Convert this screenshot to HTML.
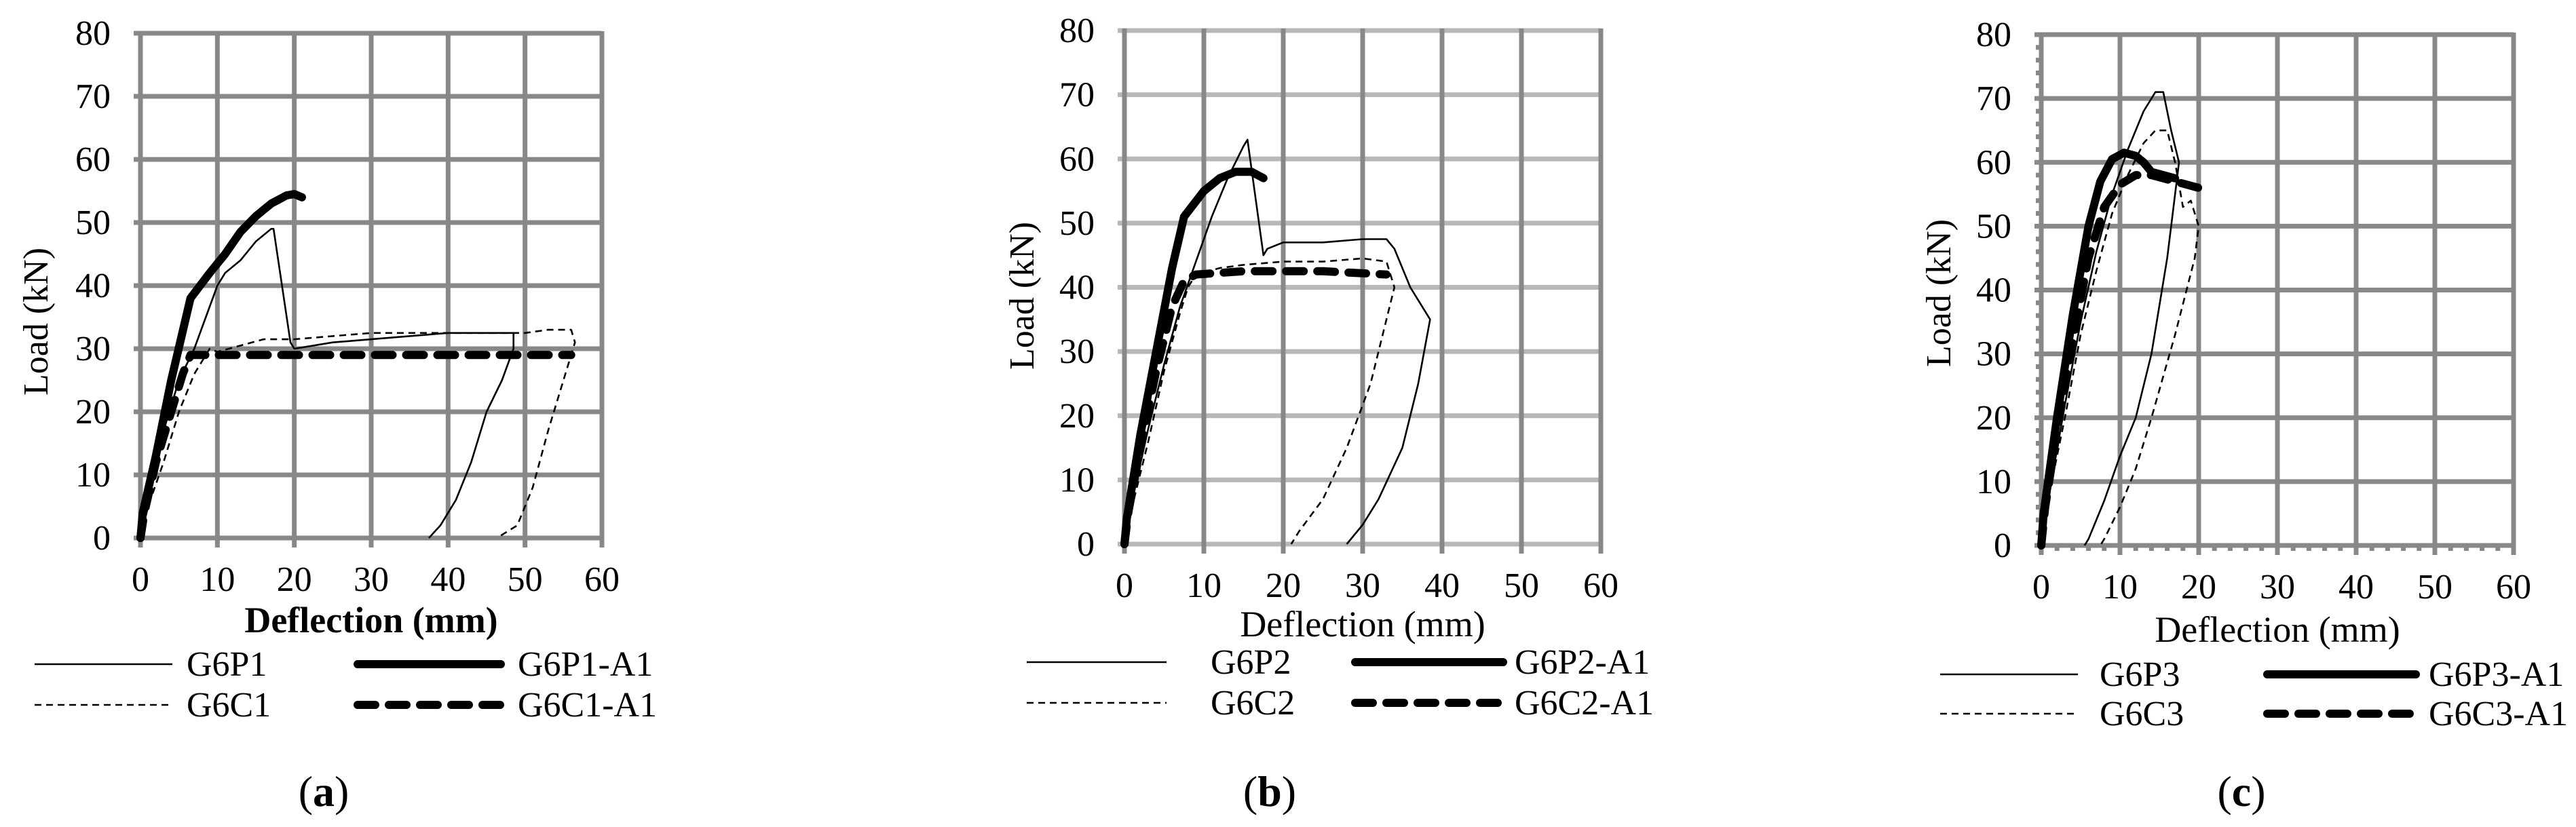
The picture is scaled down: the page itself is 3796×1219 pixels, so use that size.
<!DOCTYPE html>
<html><head><meta charset="utf-8"><style>
html,body{margin:0;padding:0;background:#fff;}
svg, svg text{font-family:"Liberation Serif","Times New Roman",serif;}
</style></head><body>
<svg id="fig" width="3796" height="1214" viewBox="0 0 3796 1214" xmlns="http://www.w3.org/2000/svg" font-family="Liberation Serif, serif"></svg>
<script>
// ---- data (x = deflection mm, y = load kN) ----
const xTicks = [0,10,20,30,40,50,60];
const yTicks = [0,10,20,30,40,50,60,70,80];
// panel (a)
const aP1 = [[0,0],[0.3,3],[1,8],[3,17],[5,25],[7,30],[8.5,35],[10,40],[11,42],[13,44],[15,47],[17,49],[17.3,49],[19.5,31],[20,30],[25,31],[30,31.5],[35,32],[40,32.5],[45,32.5],[48.5,32.5],[48.5,30],[47,25],[45,20],[43,12],[41,6],[39,2],[37.5,0]];
const aC1 = [[0,0],[1,5],[3,12],[5,20],[7,26],[9,30],[10,29.5],[13,30.5],[16,31.5],[20,31.5],[25,32],[30,32.5],[40,32.5],[50,32.5],[53,33],[56,33],[56.5,31],[55,25],[53,17],[51,8],[49,2],[47,0.5],[46.5,0]];
const aP1A1 = [[0,0],[0.3,4],[2,13],[4,25],[6.5,38],[9,42],[11,45],[13,48.5],[15,51],[17,53],[19,54.3],[20,54.5],[21,54]];
const aC1A1 = [[0,0],[0.5,4],[2,12],[4,20],[5.5,26],[6.5,29],[8,29],[10,29],[56,29]];
// panel (b)
const bP2 = [[0,0],[1,7],[3,18],[5,28],[7,37],[9,44],[11,51],[13,57],[15,62],[15.5,63],[17.5,45],[18,46],[20,47],[25,47],[30,47.5],[33,47.5],[34,46],[36,40],[38.5,35],[37,25],[35,15],[32,7],[30,3],[28,0]];
const bC2 = [[0,0],[1,6],[3,16],[5,27],[7,36],[8,40],[9,42],[12,43],[15,43.5],[20,44],[25,44],[30,44.5],[33,44],[34,40],[33,35],[31,25],[28,15],[25,7],[22,2],[21,0]];
const bP2A1 = [[0,0],[0.3,4],[2,17],[4,30],[6,43],[7.5,51],[10,55],[12,57],[14,58],[16,58],[17.5,57]];
const bC2A1 = [[0,0],[0.5,5],[2,15],[4,27],[6,37],[7.5,41],[9,42],[15,42.5],[25,42.5],[33,42]];
// panel (c)
const cP3 = [[0,0],[1,8],[3,22],[5,35],[7,46],[9,55],[11,62],[13,68],[14.5,71],[15.5,71],[16.5,65],[17.5,60],[17,55],[16,45],[14,30],[12,20],[10,14],[8,7],[6,1],[5.5,0]];
const cC3 = [[0,0],[1,8],[3,20],[5,33],[7,43],[9,52],[11,58],[13,63],[14.5,65],[16,65],[17,60],[18,53],[19,54],[20,50],[19.5,45],[17,33],[14,20],[12,12],[10,6],[8,1],[7.5,0]];
const cP3A1 = [[0,0],[0.3,5],[2,20],[4,36],[6,50],[7.5,57],[9,60.5],[10.5,61.5],[12,61],[13,60],[14,58.5],[17,57.5]];
const cC3A1 = [[0,0],[0.5,6],[2,18],[4,32],[6,45],[8,53],[10,56.5],[12,58],[14,58],[17,57],[20,56]];

const NS="http://www.w3.org/2000/svg";
const svg=document.getElementById('fig');
const FF='Liberation Serif, serif';
function mk(tag,attrs,parent){const e=document.createElementNS(NS,tag);for(const k in attrs)e.setAttribute(k,attrs[k]);if(tag==='text')e.setAttribute('font-family',FF);(parent||svg).appendChild(e);return e;}
const styles={
 thin:{w:2.6,dash:null,cap:'butt'},
 thinDash:{w:2.6,dash:'10 7',cap:'butt'},
 thick:{w:12,dash:null,cap:'round'},
 thickDash:{w:12,dash:'26 20',cap:'round'}
};
const panels=[
 {id:'a',x0:207,x1:887,y0:793,y1:49,hcol:'#888',minor:false,boldTitle:true,titleY:932,ylab:[53,474],
  series:[[aP1,'thin','G6P1'],[aC1,'thinDash','G6C1'],[aP1A1,'thick','G6P1-A1'],[aC1A1,'thickDash','G6C1-A1']],
  leg:{r1:979,r2:1039,l1:[51,254],t1:275,l2:[527,738],t2:763},cap:[477,1188]},
 {id:'b',x0:1657,x1:2359,y0:802,y1:45,hcol:'#b8b8b8',minor:false,boldTitle:false,titleY:938,ylab:[1506,436],
  series:[[bP2,'thin','G6P2'],[bC2,'thinDash','G6C2'],[bP2A1,'thick','G6P2-A1'],[bC2A1,'thickDash','G6C2-A1']],
  leg:{r1:976,r2:1036,l1:[1513,1719],t1:1784,l2:[1997,2215],t2:2232},cap:[1871,1188]},
 {id:'c',x0:3008,x1:3704,y0:804,y1:51,hcol:'#888',minor:true,boldTitle:false,titleY:946,ylab:[2857,432],
  series:[[cP3,'thin','G6P3'],[cC3,'thinDash','G6C3'],[cP3A1,'thick','G6P3-A1'],[cC3A1,'thickDash','G6C3-A1']],
  leg:{r1:994,r2:1052,l1:[2859,3062],t1:3094,l2:[3341,3560],t2:3579},cap:[3303,1188]}
];
panels.forEach(p=>{
 const g=mk('g',{});
 
 
 const X=v=>p.x0+(p.x1-p.x0)*v/60, Y=v=>p.y0-(p.y0-p.y1)*v/80;
 yTicks.forEach(t=>{const l=mk('line',{x1:p.x0-10,x2:p.x1,y1:Y(t),y2:Y(t),stroke:p.hcol,'stroke-width':7},g);
  
  const tx=mk('text',{x:p.x0-44,y:Y(t)+17,'font-size':52,'text-anchor':'end',fill:'#000'},g);tx.textContent=t;
  });
 xTicks.forEach(t=>{const l=mk('line',{x1:X(t),x2:X(t),y1:p.y1-3,y2:p.y0+14,stroke:'#888','stroke-width':7},g);
  
  const tx=mk('text',{x:X(t),y:p.y0+78,'font-size':52,'text-anchor':'middle',fill:'#000'},g);tx.textContent=t;
  });
 if(p.minor){
  for(let v=2;v<60;v+=2){if(v%10)mk('rect',{x:X(v)-3.5,y:p.y0,width:7,height:8,fill:'#888'},g);}
  for(let v=2;v<80;v+=2){if(v%10)mk('rect',{x:p.x0-8,y:Y(v)-3.5,width:8,height:7,fill:'#888'},g);}
 }
 p.series.forEach(s=>{const st=styles[s[1]];
  const d=s[0].map((pt,i)=>(i?'L':'M')+X(pt[0]).toFixed(1)+' '+Y(pt[1]).toFixed(1)).join(' ');
  const a={d:d,fill:'none',stroke:'#000','stroke-width':st.w,'stroke-linejoin':'round','stroke-linecap':st.cap};
  if(st.dash)a['stroke-dasharray']=st.dash;
  const e=mk('path',a,g);
  
  });
 const tt=mk('text',{x:(p.x0+p.x1)/2,y:p.titleY,'font-size':54,'text-anchor':'middle','font-weight':p.boldTitle?'bold':'normal'},g);
 tt.textContent='Deflection (mm)';
 
 const yt=mk('text',{x:0,y:0,'font-size':52,'text-anchor':'middle',transform:`translate(${p.ylab[0]+17},${p.ylab[1]}) rotate(-90)`},g);
 yt.textContent='Load (kN)';
 
 const L=p.leg;
 [[0,L.r1,L.l1,L.t1],[1,L.r2,L.l1,L.t1],[2,L.r1,L.l2,L.t2],[3,L.r2,L.l2,L.t2]].forEach(q=>{
  const s=p.series[q[0]],st=styles[s[1]];
  const a={x1:q[2][0],x2:q[2][1],y1:q[1],y2:q[1],stroke:'#000','stroke-width':st.w,'stroke-linecap':st.cap};
  if(st.dash)a['stroke-dasharray']=st.dash;
  const ln=mk('line',a,g);
  
  const tx=mk('text',{x:q[3],y:q[1]+17,'font-size':52},g);tx.textContent=s[2];
  });
 const cp=mk('text',{x:p.cap[0],y:p.cap[1],'font-size':64,'text-anchor':'middle'},g);
 cp.appendChild(document.createTextNode('('));
 const ts=mk('tspan',{'font-weight':'bold'},cp);ts.textContent=p.id;
 cp.appendChild(document.createTextNode(')'));
 
});
</script>
</body></html>
